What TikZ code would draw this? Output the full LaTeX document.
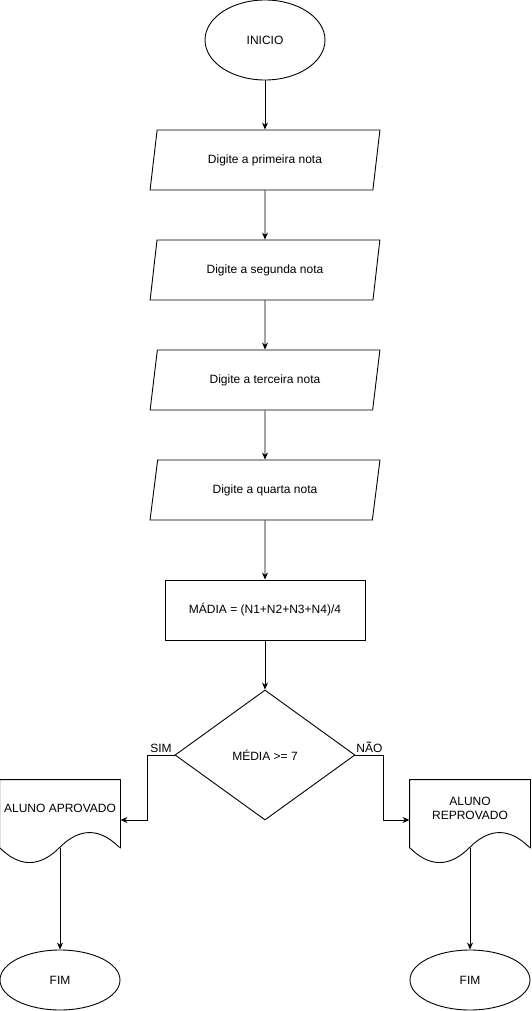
\documentclass[tikz,border=0pt]{standalone}
\usepackage{fontspec}
\setmainfont{Liberation Sans}
\usetikzlibrary{shapes.geometric,arrows.meta}

\begin{document}
\begin{tikzpicture}[x=1pt,y=-1pt,
  font=\fontsize{12}{14}\selectfont,
  line width=0.9pt,
  terminal/.style={draw,ellipse,minimum width=120pt,minimum height=80pt,inner sep=0pt},
  fimbox/.style={draw,ellipse,minimum width=120pt,minimum height=60pt,inner sep=0pt},
  entrada/.style={draw,trapezium,trapezium left angle=71.57,trapezium right angle=108.43,
    trapezium stretches=true,minimum width=230pt,minimum height=60pt,inner sep=0pt},
  processo/.style={draw,rectangle,minimum width=200pt,minimum height=60pt,inner sep=0pt},
  decisao/.style={draw,diamond,aspect=1.385,minimum width=180pt,minimum height=130pt,inner sep=0pt},
  docframe/.style={rectangle,minimum width=120pt,minimum height=80pt,inner sep=0pt},
  seta/.style={-{Stealth[length=7pt,width=6pt]}}]

\useasboundingbox (0,0) rectangle (531,1011);

% Inicio e leitura das notas
\node[terminal] (inicio) at (265,40) {INICIO};
\node[entrada] (nota1) at (265,160) {Digite a primeira nota};
\node[entrada] (nota2) at (265,270) {Digite a segunda nota};
\node[entrada] (nota3) at (265,380) {Digite a terceira nota};
\node[entrada] (nota4) at (265,490) {Digite a quarta nota};

% Calculo da media
\node[processo] (media) at (265,610) {MÁDIA = (N1+N2+N3+N4)/4};

% Teste
\node[decisao] (teste) at (265,755) {MÉDIA >= 7};

% Documentos de saida (frame + curva de baixo)
\node[docframe] (aprov) at (60,820) {};
\draw (aprov.south east) ++(0,-12) -- (aprov.north east) -- (aprov.north west) -- ++(0,68)
  .. controls +(20,20) and +(-20,20) .. ++(60,0)
  .. controls +(20,-20) and +(-20,-20) .. ++(60,0);
\node (aprovtxt) at (60,808) {ALUNO APROVADO};

\node[docframe] (reprov) at (470,820) {};
\draw (reprov.south east) ++(0,-12) -- (reprov.north east) -- (reprov.north west) -- ++(0,68)
  .. controls +(20,20) and +(-20,20) .. ++(60,0)
  .. controls +(20,-20) and +(-20,-20) .. ++(60,0);
\node[align=center] (reprovtxt) at (470,808) {ALUNO\\REPROVADO};

% Fim
\node[fimbox] (fim1) at (60,980) {FIM};
\node[fimbox] (fim2) at (470,980) {FIM};

% Ligacoes
\draw[seta] (inicio) -- (nota1);
\draw[seta] (nota1) -- (nota2);
\draw[seta] (nota2) -- (nota3);
\draw[seta] (nota3) -- (nota4);
\draw[seta] (nota4) -- (media);
\draw[seta] (media) -- (teste);
\draw[seta] (teste.west) -- node[above,inner sep=2pt] {SIM} ++(-27,0) |- (aprov.east);
\draw[seta] (teste.east) -- node[above,inner sep=2pt] {NÃO} ++(28,0) |- (reprov.west);
\draw[seta] ([yshift=12pt]aprov.south) -- (fim1);
\draw[seta] ([yshift=12pt]reprov.south) -- (fim2);

\end{tikzpicture}
\end{document}
